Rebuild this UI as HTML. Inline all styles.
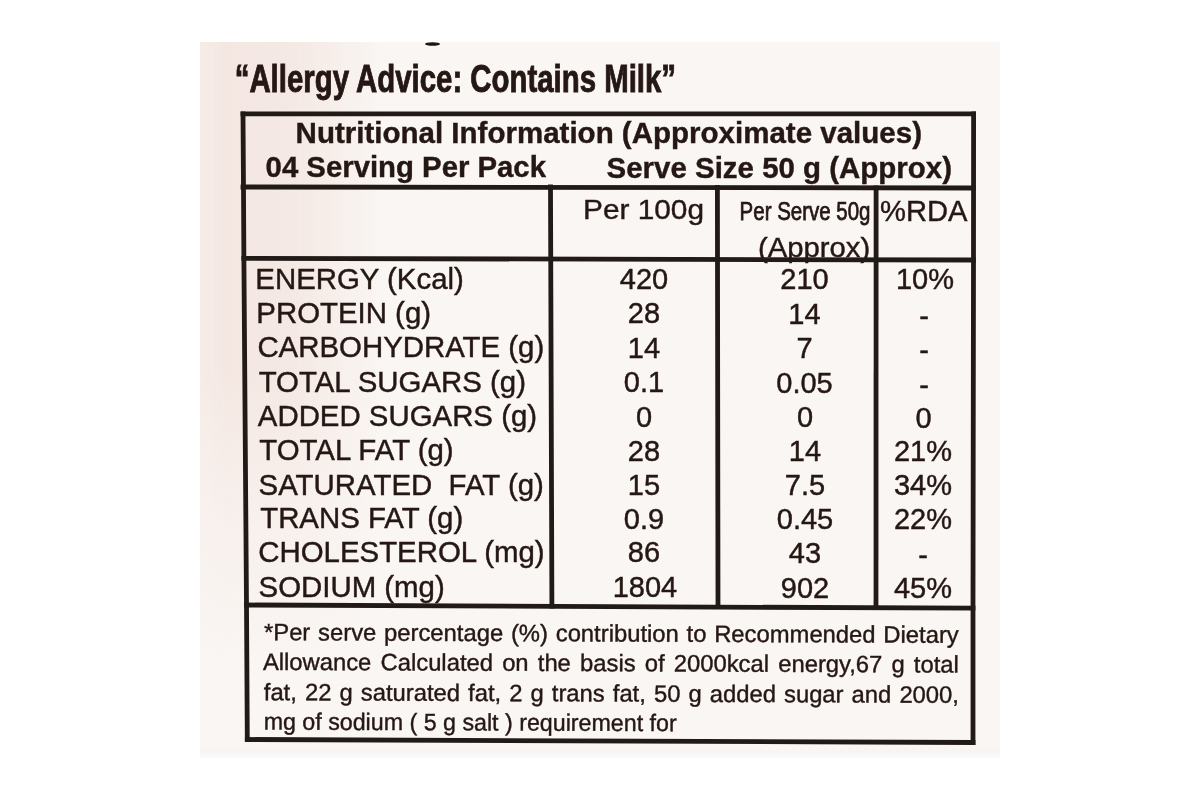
<!DOCTYPE html>
<html>
<head>
<meta charset="utf-8">
<style>
html,body{margin:0;padding:0;background:#ffffff;}
body{width:1200px;height:800px;overflow:hidden;position:relative;font-family:"Liberation Sans",sans-serif;}
#label{position:absolute;left:200px;top:42px;width:800px;height:716px;background:linear-gradient(180deg,#faf6f3 0px,#faf6f3 706px,#f7f4f3 710px,#fcfbfb 716px);}
#pink{position:absolute;left:200px;top:42px;width:800px;height:710px;
background:linear-gradient(90deg, rgba(240,222,216,0.42) 0px, rgba(240,222,216,0.6) 25px, rgba(240,222,216,0.55) 95px, rgba(240,222,216,0.3) 135px, rgba(240,222,216,0) 180px);
-webkit-mask-image:linear-gradient(180deg, #000 0px, #000 330px, rgba(0,0,0,0.4) 480px, rgba(0,0,0,0) 620px);
mask-image:linear-gradient(180deg, #000 0px, #000 330px, rgba(0,0,0,0.4) 480px, rgba(0,0,0,0) 620px);}
svg{position:absolute;left:0;top:0;filter:blur(0.45px);}
</style>
</head>
<body>
<div id="label"></div>
<div id="pink"></div>
<svg width="1200" height="800" viewBox="0 0 1200 800">

<ellipse cx="432.5" cy="44" rx="7.5" ry="1.8" fill="#1e1412"/>
<g fill="#251713" stroke="#251713" stroke-width="0.4" font-family="Liberation Sans, sans-serif">
<text x="234.7" y="91.5" font-size="38" font-weight="bold" stroke-width="0.9" textLength="441.3" lengthAdjust="spacingAndGlyphs">“Allergy Advice: Contains Milk”</text>
<text x="295.6" y="143" font-size="29" font-weight="bold" textLength="626.4" lengthAdjust="spacingAndGlyphs">Nutritional Information (Approximate values)</text>
<text x="265.6" y="177" font-size="29" font-weight="bold" textLength="280.4" lengthAdjust="spacingAndGlyphs">04 Serving Per Pack</text>
<text x="606.6" y="177.5" font-size="29" font-weight="bold" textLength="345.4" lengthAdjust="spacingAndGlyphs">Serve Size 50 g (Approx)</text>
<text x="583" y="219.4" font-size="28" textLength="121" lengthAdjust="spacingAndGlyphs">Per 100g</text>
<text x="739.6" y="220" font-size="26" stroke-width="0.75" textLength="130.9" lengthAdjust="spacingAndGlyphs">Per Serve 50g</text>
<text x="758" y="256.6" font-size="27" textLength="112.2" lengthAdjust="spacingAndGlyphs">(Approx)</text>
<text x="880" y="220.7" font-size="29" textLength="87.4" lengthAdjust="spacingAndGlyphs">%RDA</text>
</g>
<g fill="#251713" stroke="#251713" stroke-width="0.45" font-family="Liberation Sans, sans-serif" font-size="29.4">
<text x="255.3" y="288.6">ENERGY (Kcal)</text>
<text x="256.3" y="322.8">PROTEIN (g)</text>
<text x="257.4" y="357">CARBOHYDRATE (g)</text>
<text x="258.7" y="391.6">TOTAL SUGARS (g)</text>
<text x="257.8" y="426.4">ADDED SUGARS (g)</text>
<text x="259.3" y="460.3">TOTAL FAT (g)</text>
<text x="258.6" y="494.8" style="white-space:pre">SATURATED  FAT (g)</text>
<text x="260.2" y="528">TRANS FAT (g)</text>
<text x="258.3" y="561.9">CHOLESTEROL (mg)</text>
<text x="258.6" y="596.5">SODIUM (mg)</text>
</g>
<g fill="#251713" stroke="#251713" stroke-width="0.45" font-family="Liberation Sans, sans-serif" font-size="29" text-anchor="middle">
<text x="644" y="288.6">420</text>
<text x="644" y="323.4">28</text>
<text x="644" y="357.7">14</text>
<text x="644" y="392.2">0.1</text>
<text x="644" y="426.9">0</text>
<text x="644" y="460.6">28</text>
<text x="644" y="494.5">15</text>
<text x="644" y="528.5">0.9</text>
<text x="644" y="562.4">86</text>
<text x="645" y="597.4">1804</text>
<text x="804.5" y="288.8">210</text>
<text x="804.5" y="323.6">14</text>
<text x="804.5" y="358">7</text>
<text x="804.5" y="392.5">0.05</text>
<text x="805" y="427.2">0</text>
<text x="805" y="461">14</text>
<text x="805" y="495">7.5</text>
<text x="805" y="529">0.45</text>
<text x="805" y="563">43</text>
<text x="805" y="598">902</text>
<text x="925" y="289">10%</text>
<text x="924" y="325.8">-</text>
<text x="924" y="360.1">-</text>
<text x="924" y="394.6">-</text>
<text x="923.5" y="427.5">0</text>
<text x="923" y="461.3">21%</text>
<text x="923" y="495.3">34%</text>
<text x="923" y="529.3">22%</text>
<text x="923" y="565.1">-</text>
<text x="923" y="598.3">45%</text>
</g>
<g fill="#251713" stroke="#251713" stroke-width="0.4" font-family="Liberation Sans, sans-serif" font-size="23.8" transform="rotate(0.22 264 640)">
<text x="264" y="640.2" word-spacing="1.18">*Per serve percentage (%) contribution to Recommended Dietary</text>
<text x="263" y="669.9" word-spacing="2.56">Allowance Calculated on the basis of 2000kcal energy,67 g total</text>
<text x="264" y="700.2" word-spacing="1.46">fat, 22 g saturated fat, 2 g trans fat, 50 g added sugar and 2000,</text>
<text x="264" y="729.6" textLength="413" lengthAdjust="spacingAndGlyphs">mg of sodium ( 5 g salt ) requirement for</text>
</g>
<g fill="none" stroke="#211a17" stroke-width="4.8" stroke-linecap="square">
<polyline points="243,113.8 973.6,113.8"/>
<polyline points="243,187 973.5,188"/>
<polyline points="243.8,258.4 973.5,260"/>
<polyline points="246.5,605 973,608.2"/>
<polyline points="247.3,739.5 973,742.5"/>
<polyline points="243,113.8 243.5,190 243.9,260 246.5,605 247.3,739.5"/>
<polyline points="973.6,113.8 973.5,260 973,608 973,742.5"/>
<polyline points="550.5,187 551.9,606"/>
<polyline points="717.4,187.5 718,606.5"/>
<polyline points="876.1,188 876,607"/>
</g>
</svg>
</body>
</html>
